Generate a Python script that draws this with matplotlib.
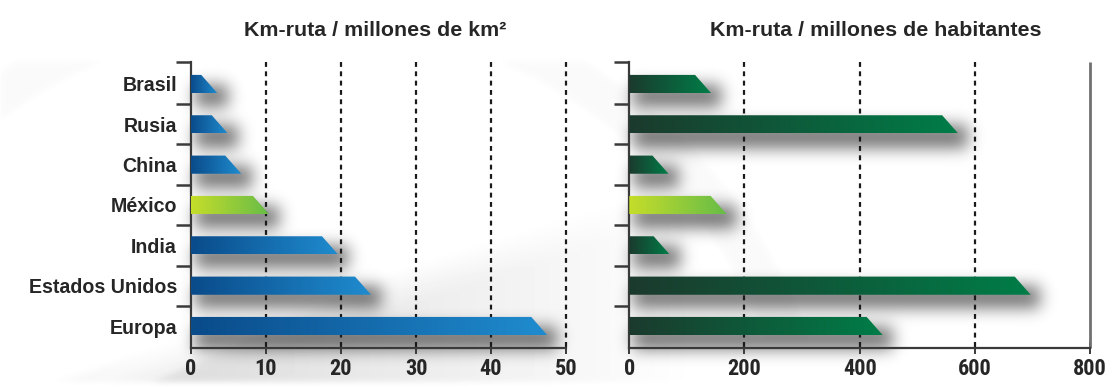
import numpy as np
import matplotlib
matplotlib.use("Agg")
import matplotlib.pyplot as plt
from matplotlib.patches import Polygon
from matplotlib import font_manager
from matplotlib.colors import LinearSegmentedColormap

# --- data -------------------------------------------------------------
categories = ["Brasil", "Rusia", "China", "México", "India",
              "Estados Unidos", "Europa"]
km_per_area = [3.5, 4.9, 6.7, 10.4, 19.6, 24.0, 47.5]          # km-ruta / millones de km²
km_per_people = [142, 571, 68, 169, 70, 697, 440]              # km-ruta / millones de habitantes
area_ticks = [0, 10, 20, 30, 40, 50]
people_ticks = [0, 200, 400, 600, 800]
title_area = "Km-ruta / millones de km²"
title_people = "Km-ruta / millones de habitantes"
highlight = "México"

# --- fonts ------------------------------------------------------------
installed = {f.name for f in font_manager.fontManager.ttflist}
narrow = next((f for f in ["Liberation Sans Narrow", "Roboto Condensed",
                           "Liberation Sans", "DejaVu Sans"] if f in installed))
wide = "Liberation Sans" if "Liberation Sans" in installed else "DejaVu Sans"
plt.rcParams["font.family"] = [wide, "DejaVu Sans"]
plt.rcParams["font.weight"] = "bold"

TXT = "#262626"
AX = "#3a3a3a"

W, H = 1114, 387
fig = plt.figure(figsize=(W / 100, H / 100), dpi=100)
fig.patch.set_facecolor("white")


def gaussian_blur(img, sigma):
    rad = int(3 * sigma)
    k = np.exp(-0.5 * (np.arange(-rad, rad + 1) / sigma) ** 2)
    k /= k.sum()
    out = np.apply_along_axis(lambda v: np.convolve(v, k, mode="same"), 0, img)
    out = np.apply_along_axis(lambda v: np.convolve(v, k, mode="same"), 1, out)
    return out


# soft grey backdrop: a diagonal sweep in the lower left and a faint arc
yy, xx = np.mgrid[0:H, 0:W].astype(float)
shade = np.clip((yy - (395 - 0.32 * xx)) / 40.0, 0, 1) * (xx > 18) * (yy < 382)
shade *= np.clip(1 - (xx - 200) / 500.0, 0, 1)
light = ((yy - (420 - 0.45 * xx) > 0) & (yy - (420 - 0.45 * xx) < 30)).astype(float)
r = np.hypot(xx - 300, yy - 520)
arc = ((r > 500) & (r < 540) & (yy < 340) & (yy > 60)).astype(float)
bgdark = 0.13 * shade - 0.06 * light * shade + 0.02 * arc
bgdark = gaussian_blur(bgdark, 3.0)
bg = np.clip(1 - bgdark, 0, 1)
bax = fig.add_axes([0, 0, 1, 1], zorder=-10)
bax.imshow(bg, cmap="gray", vmin=0, vmax=1, aspect="auto",
           extent=[0, 1, 0, 1], origin="upper")
bax.axis("off")

axes_bottom = 1 - 348 / H
axes_height = (348 - 62) / H
ax1 = fig.add_axes([191 / W, axes_bottom, 375 / W, axes_height])
ax2 = fig.add_axes([629.3 / W, axes_bottom, 460.7 / W, axes_height])

Y0, Y1 = -0.545, len(categories) - 1 + 0.545
BAR_H = 0.45


def draw_panel(ax, values, xmax, ticks, base_colors, title, title_x,
               right_line):
    ax.set_xlim(0, xmax)
    ax.set_ylim(Y1, Y0)
    ax.patch.set_alpha(0)
    fig.canvas.draw()
    bb = ax.get_window_extent()
    px_x = xmax / bb.width            # data units per pixel (x)
    px_y = (Y1 - Y0) / bb.height      # data units per pixel (y)

    # soft drop shadows under the bars
    pad = 40
    nx, ny = int(bb.width) + 2 * pad, int(bb.height) + 2 * pad
    gx = np.linspace(-pad * px_x, xmax + pad * px_x, nx)
    gy = np.linspace(Y0 - pad * px_y, Y1 + pad * px_y, ny)
    mask = np.zeros((ny, nx))
    for i, v in enumerate(values):
        x0, x1 = 4 * px_x, v + 10 * px_x
        yc = i + 12 * px_y
        half = BAR_H / 2 + 2 * px_y
        sel_y = (gy > yc - half) & (gy < yc + half)
        sel_x = (gx > x0) & (gx < x1)
        mask[np.ix_(sel_y, sel_x)] = 1
    mask = gaussian_blur(mask, 8.0)
    shadow = np.zeros((ny, nx, 4))
    shadow[..., 3] = 0.55 * mask
    ax.imshow(shadow, extent=[gx[0], gx[-1], gy[-1], gy[0]], aspect="auto",
              origin="upper", zorder=1, interpolation="bilinear",
              clip_on=False)

    # grid lines
    for t in ticks[1:]:
        if t == xmax and right_line:
            ax.plot([t, t], [Y0, Y1], color="#707070", lw=2.0,
                    solid_capstyle="butt", zorder=2, clip_on=False)
        else:
            ax.plot([t, t], [Y0, Y1], color="#1a1a1a", lw=1.6,
                    ls=(0, (2.2, 2.0)), zorder=2, clip_on=False)

    # gradient bars with a slanted tip
    slant = 16 * px_x
    for i, v in enumerate(values):
        c0, c1 = base_colors[1] if categories[i] == highlight else base_colors[0]
        cmap = LinearSegmentedColormap.from_list("g", [c0, c1])
        top, bot = i - BAR_H / 2, i + BAR_H / 2
        poly = Polygon([[0, top], [v - slant, top], [v, bot], [0, bot]],
                       closed=True, fc="none", ec="none", zorder=3)
        ax.add_patch(poly)
        grad = np.linspace(0, 1, 256)[None, :]
        im = ax.imshow(grad, cmap=cmap, extent=[0, v, bot, top],
                       aspect="auto", origin="upper", zorder=3,
                       interpolation="bilinear")
        im.set_clip_path(poly)

    ax.set_xlim(0, xmax)
    ax.set_ylim(Y1, Y0)

    # spines and ticks
    for s in ["top", "right"]:
        ax.spines[s].set_visible(False)
    for s in ["left", "bottom"]:
        ax.spines[s].set_color(AX)
        ax.spines[s].set_linewidth(1.6)
    ax.set_xticks(ticks)
    ax.set_xticklabels([str(t) for t in ticks], fontsize=16, color=TXT,
                       fontweight="bold", family=[narrow, "DejaVu Sans"])
    ax.tick_params(axis="x", direction="inout", length=9, width=1.4,
                   color=AX, pad=3)
    ax.set_yticks(np.arange(len(categories)))
    ax.set_yticks([Y0] + list(np.arange(len(categories) - 1) + 0.5),
                  minor=True)
    ax.tick_params(axis="y", which="major", length=0, pad=10)
    ax.tick_params(axis="y", which="minor", direction="out", length=11,
                   width=1.8, color=AX)
    ax.set_title(title, fontsize=15.4, color=TXT, fontweight="bold",
                 pad=19, x=title_x)


blue = ("#0a4b8a", "#1f8ccf")
green = ("#1b3a2d", "#007d48")
lime = ("#c6dd2a", "#66bc48")

draw_panel(ax1, km_per_area, area_ticks[-1], area_ticks,
           [blue, lime], title_area, 0.49, right_line=False)
ax1.set_yticklabels(categories, fontsize=14.1, color=TXT, fontweight="bold")

draw_panel(ax2, km_per_people, people_ticks[-1], people_ticks,
           [green, lime], title_people, 0.535, right_line=True)
ax2.set_yticklabels([])

fig.savefig("out.png", dpi=100, facecolor=fig.get_facecolor())
